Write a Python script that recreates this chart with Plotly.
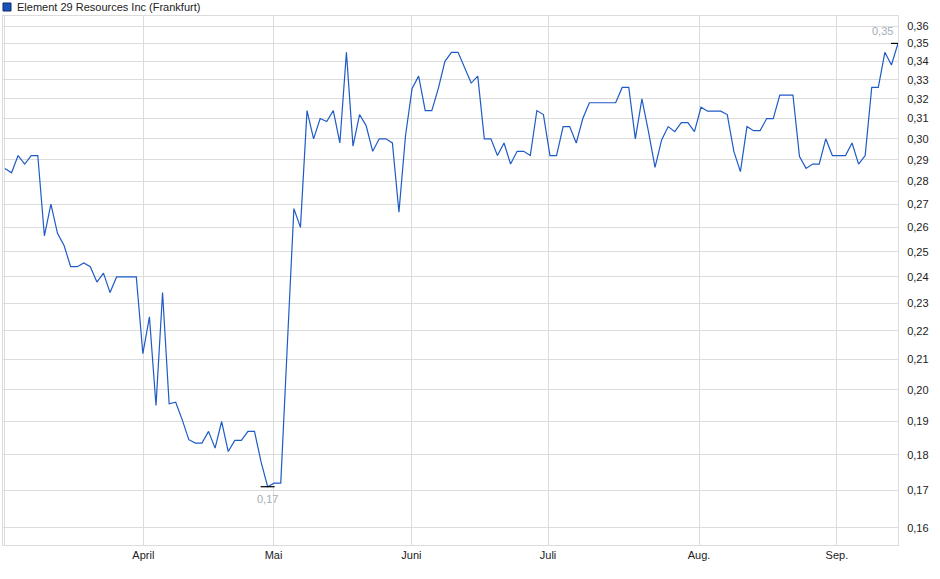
import math

import plotly.graph_objects as go

prices = [
    0.286, 0.284, 0.292, 0.288, 0.292, 0.292, 0.2565, 0.270, 0.2575, 0.2525,
    0.244, 0.244, 0.2455, 0.244, 0.238, 0.2415, 0.234, 0.240, 0.240, 0.240,
    0.240, 0.212, 0.225, 0.195, 0.234, 0.1955, 0.196, 0.1905, 0.1845, 0.1835,
    0.1835, 0.187, 0.182, 0.190, 0.181, 0.1843, 0.1843, 0.187, 0.187, 0.178,
    0.171, 0.172, 0.172, 0.215, 0.268, 0.260, 0.314, 0.300, 0.310, 0.3085,
    0.314, 0.298, 0.345, 0.2965, 0.312, 0.3065, 0.294, 0.300, 0.300, 0.298,
    0.2665, 0.3015, 0.3255, 0.332, 0.314, 0.314, 0.3255, 0.340, 0.345, 0.345,
    0.3365, 0.3283, 0.332, 0.300, 0.300, 0.292, 0.298, 0.288, 0.294, 0.294,
    0.292, 0.314, 0.312, 0.292, 0.292, 0.306, 0.306, 0.298, 0.310, 0.318,
    0.318, 0.318, 0.318, 0.318, 0.326, 0.326, 0.300, 0.320, 0.3035, 0.2865,
    0.2995, 0.306, 0.3035, 0.308, 0.308, 0.3035, 0.3157, 0.3137, 0.3137, 0.3137,
    0.312, 0.294, 0.2845, 0.306, 0.304, 0.304, 0.310, 0.310, 0.322, 0.322,
    0.322, 0.2915, 0.286, 0.288, 0.288, 0.300, 0.292, 0.292, 0.292, 0.298,
    0.288, 0.292, 0.326, 0.326, 0.345, 0.338, 0.350,
]
days = list(range(len(prices)))

# Monatsanfaenge (Position auf der Handelstag-Achse)
month_pos = [0, 21.07, 40.9, 61.9, 82.7, 105.7, 126.7]
month_labels = ["", "April", "Mai", "Juni", "Juli", "Aug.", "Sep."]

y_ticks = [round(0.16 + 0.01 * i, 2) for i in range(21)]
y_labels = [f"{v:.2f}".replace(".", ",") for v in y_ticks]

LINE_COLOR = "#1f5bc6"
GRID = "#dcdcdc"
FONT = "Liberation Sans, Arial"

fig = go.Figure()

fig.add_trace(
    go.Scatter(
        x=days,
        y=prices,
        mode="lines",
        line=dict(color=LINE_COLOR, width=1.2),
        showlegend=False,
        hoverinfo="skip",
    )
)

# Hoch / Tief Markierungen
lo_i = prices.index(min(prices))
hi_i = len(prices) - 1
fig.add_trace(
    go.Scatter(
        x=[lo_i, hi_i],
        y=[prices[lo_i], prices[hi_i]],
        mode="markers",
        marker=dict(symbol="line-ew", size=10, line=dict(color="black", width=1.2)),
        showlegend=False,
        hoverinfo="skip",
    )
)
for i, yshift, xshift in ((lo_i, -12, 0), (hi_i, 12, -16)):
    fig.add_annotation(
        x=i,
        y=math.log10(prices[i]),
        text=f"{prices[i]:.2f}".replace(".", ","),
        showarrow=False,
        yshift=yshift,
        xshift=xshift,
        font=dict(family=FONT, size=11, color="#a3acb8"),
    )

# Legende (Quadrat + Titel)
fig.add_shape(
    type="rect",
    xref="paper",
    yref="paper",
    x0=0,
    x1=8 / 895,
    y0=1 + 5 / 529,
    y1=1 + 13 / 529,
    fillcolor="#1a52bd",
    line=dict(color="#0d2a66", width=1),
)
fig.add_annotation(
    xref="paper",
    yref="paper",
    x=12 / 895,
    y=1 + 9 / 529,
    xanchor="left",
    yanchor="middle",
    text="Element 29 Resources Inc (Frankfurt)",
    showarrow=False,
    font=dict(family=FONT, size=11, color="#222222"),
)

fig.update_layout(
    width=940,
    height=579,
    margin=dict(l=3, r=42, t=16, b=34),
    paper_bgcolor="white",
    plot_bgcolor="white",
    font=dict(family=FONT, size=11, color="#222222"),
)

fig.update_xaxes(
    range=[-0.3, len(prices) - 1],
    tickvals=month_pos,
    ticktext=month_labels,
    showgrid=True,
    gridcolor=GRID,
    gridwidth=1,
    showline=True,
    linecolor=GRID,
    mirror=True,
    zeroline=False,
    ticks="",
    tickfont=dict(size=11, color="#222222"),
)

fig.update_yaxes(
    type="log",
    range=[-0.80791, -0.43668],
    side="right",
    tickvals=y_ticks,
    ticktext=y_labels,
    showgrid=True,
    gridcolor=GRID,
    gridwidth=1,
    showline=True,
    linecolor=GRID,
    mirror=True,
    zeroline=False,
    ticks="",
    ticklabelstandoff=6,
    tickfont=dict(size=11, color="#222222"),
)

fig.write_html(
    "out.html",
    config={"displayModeBar": False},
    post_script="document.body.style.margin='0px';",
)
